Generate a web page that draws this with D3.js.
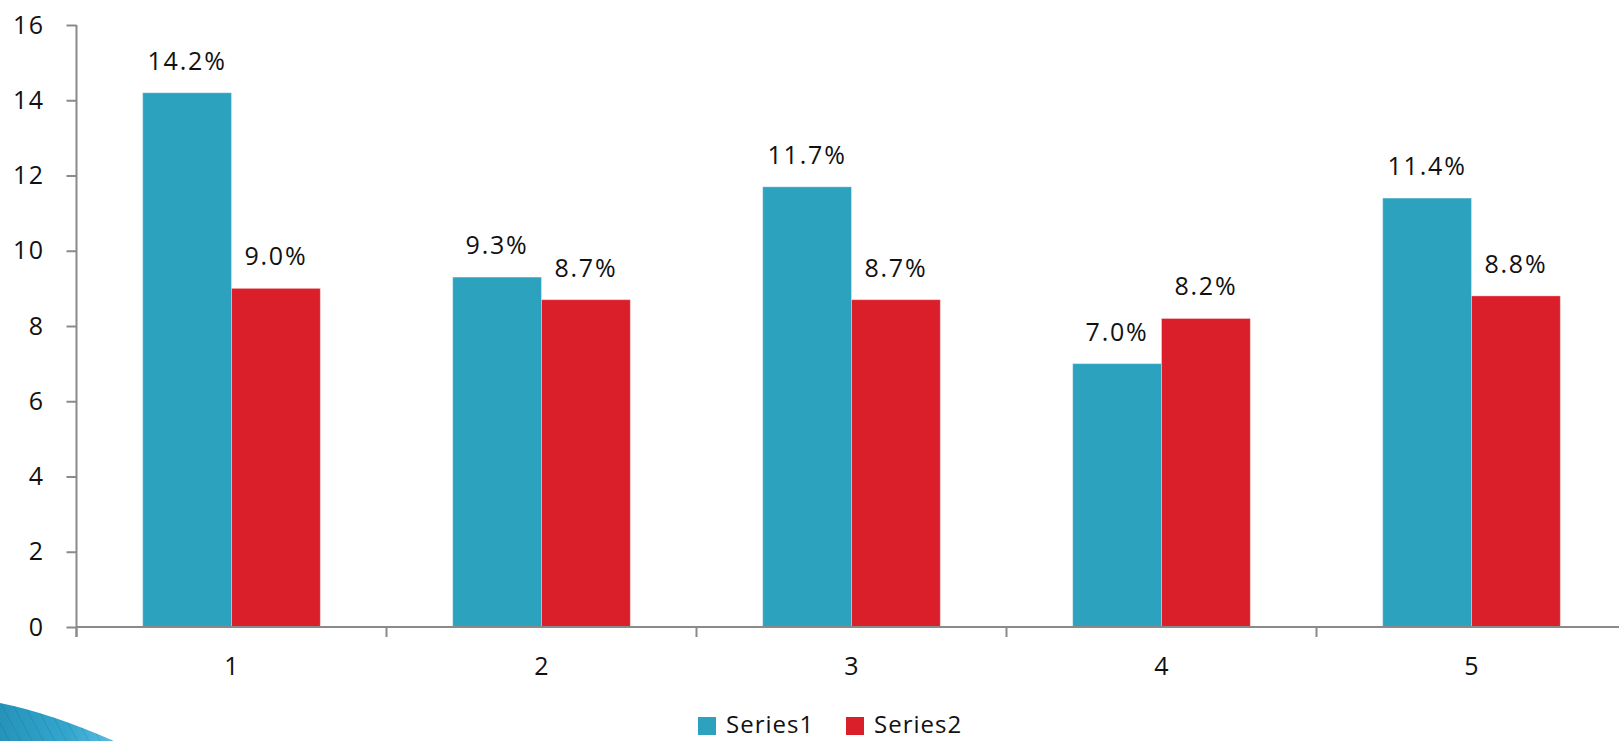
<!DOCTYPE html>
<html>
<head>
<meta charset="utf-8">
<script src="https://cdn.jsdelivr.net/npm/d3@7"></script>
<style>
  html, body { margin: 0; padding: 0; background: #fff; overflow: hidden; }
  svg { display: block; }
  text { font-family: "Open Sans", "DejaVu Sans", sans-serif; fill: #111; }
</style>
</head>
<body>
<svg id="chart" width="1619" height="741"></svg>
<script>
// Categories and series values (percent)
const categories = ["1", "2", "3", "4", "5"];
const seriesNames = ["Series1", "Series2"];
const series1 = [14.2, 9.3, 11.7, 7.0, 11.4];
const series2 = [9.0, 8.7, 8.7, 8.2, 8.8];
const yTicks = [0, 2, 4, 6, 8, 10, 12, 14, 16];
const colors = ["#2CA2BF", "#DA1F2A"];

const svg = d3.select("#chart");

const plotLeft = 76.5, step = 310, plotTop = 25, plotBottom = 627;
const x0 = d3.scaleBand()
  .domain(categories)
  .range([plotLeft, plotLeft + step * categories.length])
  .paddingInner(0).paddingOuter(0);
const x1 = d3.scaleBand()
  .domain(seriesNames)
  .range([0, x0.bandwidth()])
  .paddingInner(0).paddingOuter(0.745);
const y = d3.scaleLinear().domain([0, 16]).range([plotBottom, plotTop]);
const color = d3.scaleOrdinal().domain(seriesNames).range(colors);

const rows = categories.map((c, i) => ({ cat: c, vals: [
  { name: seriesNames[0], v: series1[i] },
  { name: seriesNames[1], v: series2[i] }
]}));

// Bottom-left decorative wedge
const defs = svg.append("defs");
const grad = defs.append("linearGradient").attr("id", "wedgeGrad")
  .attr("x1", "0").attr("y1", "0").attr("x2", "1").attr("y2", "0");
grad.append("stop").attr("offset", "0").attr("stop-color", "#2693ba");
grad.append("stop").attr("offset", "0.6").attr("stop-color", "#34a6cd");
grad.append("stop").attr("offset", "1").attr("stop-color", "#5cbde0");
const pat = defs.append("pattern").attr("id", "stripes")
  .attr("width", 10).attr("height", 10).attr("patternUnits", "userSpaceOnUse")
  .attr("patternTransform", "rotate(-28)");
pat.append("line").attr("x1", 0).attr("y1", 0).attr("x2", 0).attr("y2", 10)
  .attr("stroke", "#0f5f82").attr("stroke-width", 1).attr("stroke-opacity", 0.4);
const wedge = "M0,703 Q50,713 114,741 L0,741 Z";
svg.append("path").attr("d", wedge).attr("fill", "url(#wedgeGrad)");
svg.append("path").attr("d", wedge).attr("fill", "url(#stripes)");

// Bars
const groups = svg.append("g").selectAll("g").data(rows).join("g")
  .attr("transform", d => `translate(${x0(d.cat)},0)`);
groups.selectAll("rect").data(d => d.vals).join("rect")
  .attr("x", d => x1(d.name))
  .attr("y", d => y(d.v))
  .attr("width", x1.bandwidth())
  .attr("height", d => y(0) - y(d.v))
  .attr("fill", d => color(d.name))
  .attr("stroke", "#ffffff").attr("stroke-opacity", 0.35).attr("stroke-width", 1);

// Value labels
groups.selectAll("text.val").data(d => d.vals).join("text")
  .attr("class", "val")
  .attr("x", d => x1(d.name) + x1.bandwidth() / 2)
  .attr("y", d => y(d.v) - 23)
  .attr("text-anchor", "middle")
  .style("font-size", "25px").style("letter-spacing", "1.8px")
  .text(d => d3.format(".1f")(d.v) + "%");

// Y axis
const yAxis = svg.append("g").attr("transform", `translate(${plotLeft},0)`)
  .call(d3.axisLeft(y).tickValues(yTicks).tickSize(10).tickPadding(22).tickFormat(d3.format("d")));
yAxis.select(".domain").attr("stroke", "#8a8a8a").attr("stroke-width", 2)
  .attr("d", `M0,${plotTop}V${plotBottom + 10}`);
yAxis.selectAll(".tick line").attr("stroke", "#8a8a8a").attr("stroke-width", 2);
yAxis.selectAll(".tick text").style("font-size", "25px").style("letter-spacing", "1.5px")
  .style("font-family", "'Open Sans', sans-serif").attr("fill", "#111");

// X axis: baseline, boundary ticks, centered labels
const xAxis = svg.append("g").attr("transform", `translate(0,${plotBottom})`);
xAxis.append("line").attr("x1", plotLeft).attr("x2", x0.range()[1])
  .attr("stroke", "#8a8a8a").attr("stroke-width", 2);
const bounds = categories.map(c => x0(c)).concat([x0.range()[1]]);
xAxis.selectAll("line.tk").data(bounds).join("line").attr("class", "tk")
  .attr("x1", d => d).attr("x2", d => d).attr("y1", 0).attr("y2", 10)
  .attr("stroke", "#8a8a8a").attr("stroke-width", 2);
xAxis.selectAll("text.cat").data(categories).join("text").attr("class", "cat")
  .attr("x", d => x0(d) + x0.bandwidth() / 2)
  .attr("y", 48)
  .attr("text-anchor", "middle")
  .style("font-size", "25px")
  .text(d => d);

// Legend
const legend = svg.append("g").attr("transform", "translate(698,0)");
const legendItems = legend.selectAll("g").data(seriesNames).join("g")
  .attr("transform", (d, i) => `translate(${i * 148},0)`);
legendItems.append("rect").attr("x", 0).attr("y", 717).attr("width", 18).attr("height", 18)
  .attr("fill", d => color(d));
legendItems.append("text").attr("x", 28).attr("y", 733)
  .style("font-size", "24px").style("letter-spacing", "1px")
  .text(d => d);
</script>
</body>
</html>
